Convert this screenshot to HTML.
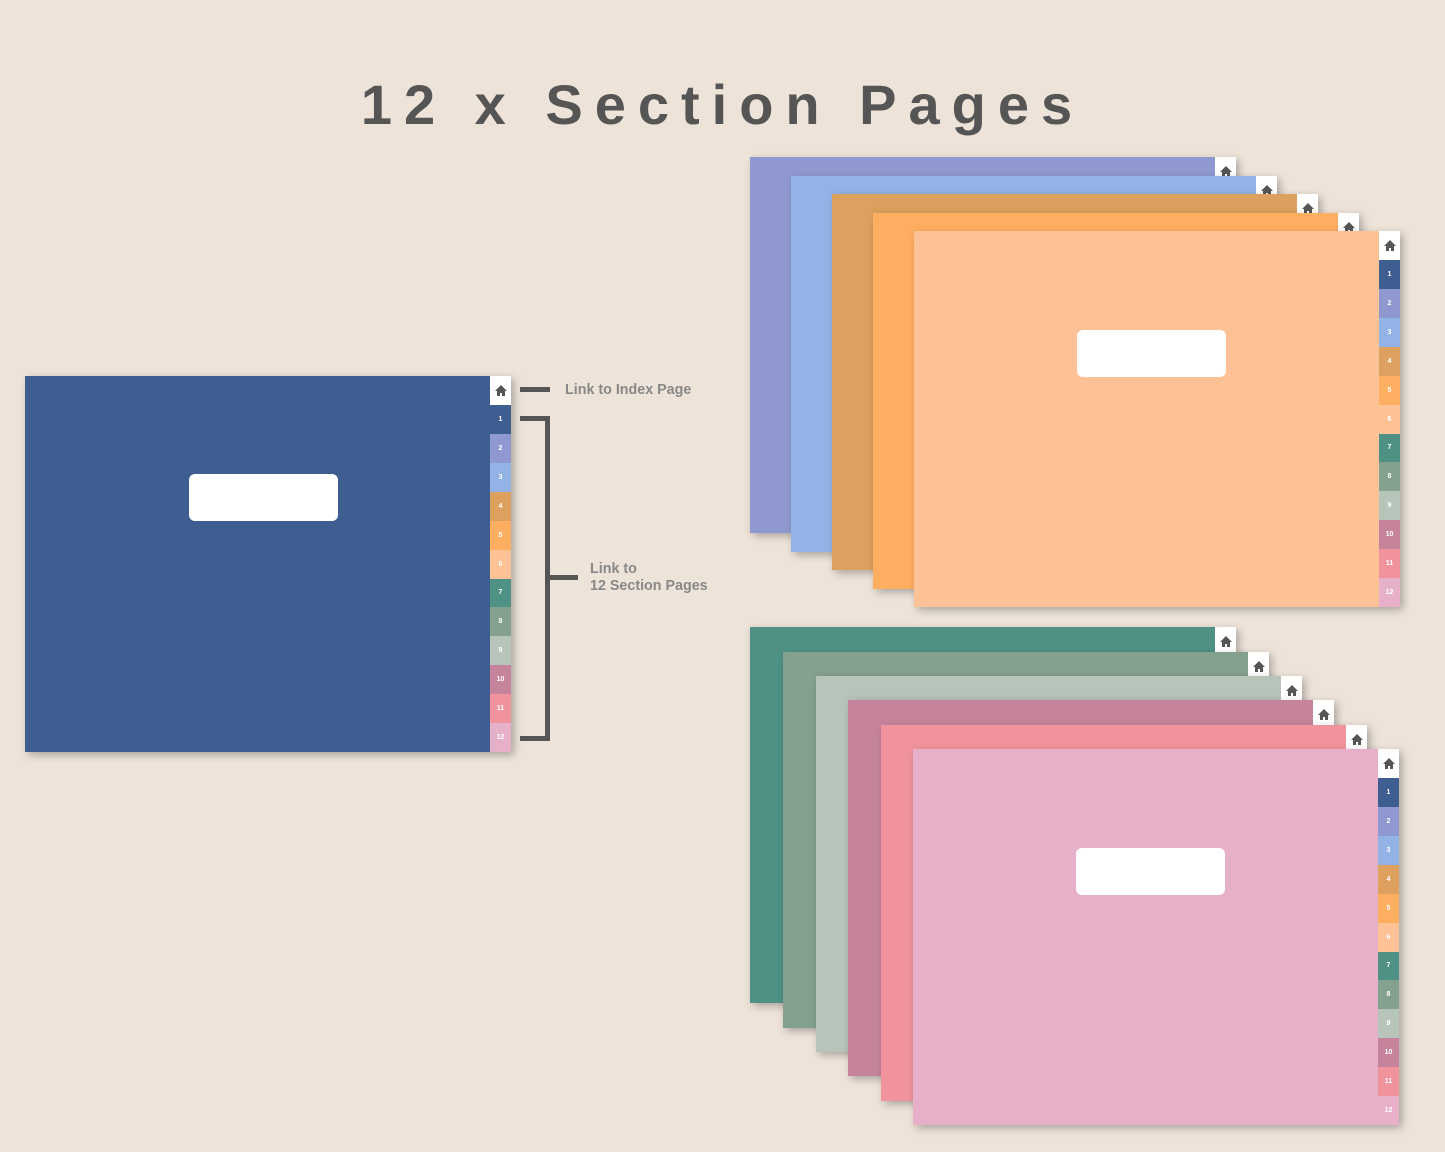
<!DOCTYPE html>
<html><head><meta charset="utf-8">
<style>
html,body{margin:0;padding:0}
body{width:1445px;height:1152px;background:#ede3d9;position:relative;overflow:hidden;font-family:"Liberation Sans",Arial,sans-serif}
.t{position:absolute;left:0;width:1445px;top:72px;text-align:center;font-size:56px;font-weight:bold;color:#555;letter-spacing:12px}
.pg{position:absolute;width:486px;height:376px;box-shadow:3px 3px 8px rgba(0,0,0,.28)}
.tc{position:absolute;right:0;top:0;width:21px;height:376px;display:flex;flex-direction:column}
.h{height:29px;background:#fff;display:flex;align-items:center;justify-content:center;flex:none}
.tc div.n{flex:1;color:#fff;font-size:7px;font-weight:bold;display:flex;align-items:center;justify-content:center}
.bx{position:absolute;width:149px;height:47px;background:#fff;border-radius:6px}
.bar{position:absolute;background:#555}
.lb{position:absolute;color:#888;font-size:14.3px;font-weight:bold;line-height:17px}
.c1{background:#3e5d91}.c2{background:#9098d0}.c3{background:#93b2e6}.c4{background:#dda05e}.c5{background:#fdae60}.c6{background:#fcc194}
.c7{background:#4f9285}.c8{background:#84a08f}.c9{background:#b6c4ba}.c10{background:#c6849c}.c11{background:#f0939c}.c12{background:#e6b1c8}
</style></head><body>
<div class="t">12 x Section Pages</div>

<div class="pg c1" style="left:25px;top:376px">
<div class="bx" style="left:164px;top:98px"></div>
<div class="tc"><div class="h"><svg width="12" height="11"><path d="M6 0L0 6h2v5h3V8h2v3h3V6h2z" fill="#555"/></svg></div>
<div class="n c1">1</div><div class="n c2">2</div><div class="n c3">3</div><div class="n c4">4</div><div class="n c5">5</div><div class="n c6">6</div><div class="n c7">7</div><div class="n c8">8</div><div class="n c9">9</div><div class="n c10">10</div><div class="n c11">11</div><div class="n c12">12</div></div>
</div>

<div class="bar" style="left:520px;top:387px;width:30px;height:5px"></div>
<div class="lb" style="left:565px;top:382px">Link to Index Page</div>
<div class="bar" style="left:520px;top:416px;width:30px;height:5px"></div>
<div class="bar" style="left:545px;top:416px;width:5px;height:325px"></div>
<div class="bar" style="left:520px;top:736px;width:30px;height:5px"></div>
<div class="bar" style="left:550px;top:575px;width:28px;height:5px"></div>
<div class="lb" style="left:590px;top:561px">Link to<br>12 Section Pages</div>

<div class="pg c2" style="left:750px;top:157px"><div class="tc"><div class="h"><svg width="12" height="11"><path d="M6 0L0 6h2v5h3V8h2v3h3V6h2z" fill="#555"/></svg></div></div></div>
<div class="pg c3" style="left:791px;top:176px"><div class="tc"><div class="h"><svg width="12" height="11"><path d="M6 0L0 6h2v5h3V8h2v3h3V6h2z" fill="#555"/></svg></div></div></div>
<div class="pg c4" style="left:832px;top:194px"><div class="tc"><div class="h"><svg width="12" height="11"><path d="M6 0L0 6h2v5h3V8h2v3h3V6h2z" fill="#555"/></svg></div></div></div>
<div class="pg c5" style="left:873px;top:213px"><div class="tc"><div class="h"><svg width="12" height="11"><path d="M6 0L0 6h2v5h3V8h2v3h3V6h2z" fill="#555"/></svg></div></div></div>
<div class="pg c6" style="left:914px;top:231px">
<div class="bx" style="left:163px;top:99px"></div>
<div class="tc"><div class="h"><svg width="12" height="11"><path d="M6 0L0 6h2v5h3V8h2v3h3V6h2z" fill="#555"/></svg></div>
<div class="n c1">1</div><div class="n c2">2</div><div class="n c3">3</div><div class="n c4">4</div><div class="n c5">5</div><div class="n c6">6</div><div class="n c7">7</div><div class="n c8">8</div><div class="n c9">9</div><div class="n c10">10</div><div class="n c11">11</div><div class="n c12">12</div></div>
</div>

<div class="pg c7" style="left:750px;top:627px"><div class="tc"><div class="h"><svg width="12" height="11"><path d="M6 0L0 6h2v5h3V8h2v3h3V6h2z" fill="#555"/></svg></div></div></div>
<div class="pg c8" style="left:783px;top:652px"><div class="tc"><div class="h"><svg width="12" height="11"><path d="M6 0L0 6h2v5h3V8h2v3h3V6h2z" fill="#555"/></svg></div></div></div>
<div class="pg c9" style="left:816px;top:676px"><div class="tc"><div class="h"><svg width="12" height="11"><path d="M6 0L0 6h2v5h3V8h2v3h3V6h2z" fill="#555"/></svg></div></div></div>
<div class="pg c10" style="left:848px;top:700px"><div class="tc"><div class="h"><svg width="12" height="11"><path d="M6 0L0 6h2v5h3V8h2v3h3V6h2z" fill="#555"/></svg></div></div></div>
<div class="pg c11" style="left:881px;top:725px"><div class="tc"><div class="h"><svg width="12" height="11"><path d="M6 0L0 6h2v5h3V8h2v3h3V6h2z" fill="#555"/></svg></div></div></div>
<div class="pg c12" style="left:913px;top:749px">
<div class="bx" style="left:163px;top:99px"></div>
<div class="tc"><div class="h"><svg width="12" height="11"><path d="M6 0L0 6h2v5h3V8h2v3h3V6h2z" fill="#555"/></svg></div>
<div class="n c1">1</div><div class="n c2">2</div><div class="n c3">3</div><div class="n c4">4</div><div class="n c5">5</div><div class="n c6">6</div><div class="n c7">7</div><div class="n c8">8</div><div class="n c9">9</div><div class="n c10">10</div><div class="n c11">11</div><div class="n c12">12</div></div>
</div>
</body></html>
